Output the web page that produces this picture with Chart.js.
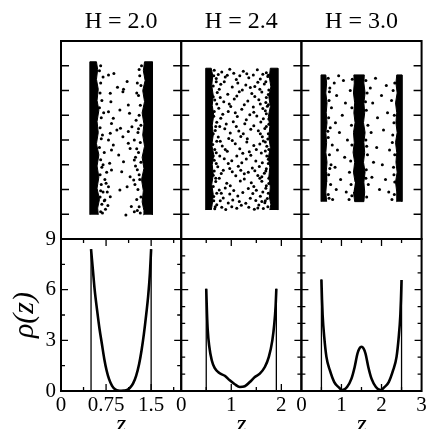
<!DOCTYPE html>
<html>
<head>
<meta charset="utf-8">
<script src="https://cdn.jsdelivr.net/npm/chart.js@4"></script>
<style>
  html, body { margin: 0; padding: 0; background: #fff; }
  #wrap { position: relative; width: 430px; height: 429px; }
</style>
</head>
<body>
<div id="wrap"><canvas id="chart"></canvas></div>
<script>
"use strict";

// one column per slab width H
const titles = ["H = 2.0", "H = 2.4", "H = 3.0"];
const zMax = [2.0, 2.4, 3.0];

// tick values and labels
const zMajor = [[0, 0.75, 1.5], [0, 1, 2], [0, 1, 2, 3]];
const zLabels = [["0", "0.75", "1.5"], ["0", "1", "2"], ["0", "1", "2", "3"]];
const zMinor = [[0.375, 1.125, 1.875], [0.5, 1.5], [0.5, 1.5, 2.5]];
const rhoMajor = [0, 3, 6, 9];
const rhoLabels = ["0", "3", "6", "9"];
const rhoMinor = [[1.5, 4.5, 7.5], [1, 2, 4, 5, 7, 8], [1, 2, 4, 5, 7, 8]];
const topTicks = [1, 2, 3, 4, 5, 6, 7];

// density profiles rho(z)
const z1 = [0.5, 0.53, 0.56, 0.6, 0.64, 0.68, 0.72, 0.76, 0.8, 0.85, 0.9, 0.95, 1.0, 1.05, 1.1, 1.15, 1.2, 1.25, 1.3, 1.34, 1.38, 1.42, 1.45, 1.48, 1.5];
const rho1 = [8.4, 7.2, 6.0, 4.8, 3.7, 2.8, 1.9, 1.2, 0.7, 0.3, 0.1, 0.03, 0.01, 0.02, 0.06, 0.2, 0.45, 0.9, 1.6, 2.4, 3.4, 4.6, 5.6, 7.0, 8.4];
const z2 = [0.5, 0.515, 0.53, 0.56, 0.61, 0.67, 0.77, 0.87, 0.97, 1.07, 1.17, 1.27, 1.37, 1.47, 1.57, 1.67, 1.75, 1.82, 1.86, 1.885, 1.9];
const rho2 = [6.05, 4.6, 3.6, 2.65, 1.82, 1.35, 1.05, 0.9, 0.63, 0.4, 0.24, 0.28, 0.53, 0.83, 1.03, 1.42, 2.02, 3.0, 4.0, 5.0, 6.05];
const z3 = [0.5, 0.515, 0.53, 0.57, 0.625, 0.71, 0.82, 0.94, 1.02, 1.14, 1.25, 1.33, 1.4, 1.45, 1.5, 1.55, 1.6, 1.67, 1.75, 1.86, 1.98, 2.06, 2.18, 2.29, 2.375, 2.43, 2.47, 2.485, 2.5];
const rho3 = [6.6, 5.4, 4.5, 3.2, 2.02, 1.23, 0.53, 0.2, 0.05, 0.24, 0.73, 1.42, 2.22, 2.52, 2.62, 2.52, 2.22, 1.42, 0.73, 0.24, 0.05, 0.2, 0.53, 1.23, 2.02, 3.2, 4.5, 5.4, 6.57];
const zs = [z1, z2, z3];
const rhos = [rho1, rho2, rho3];
const walls = [[0.5, 1.5], [0.5, 1.9], [0.5, 2.5]];

// particle snapshots: dense wall layers (outlines) and single particles
const bands1 = [
  [[0.48,0.98],[0.48,7.16],[0.59,7.16],[0.61,6.85],[0.59,6.45],[0.62,6.05],[0.60,5.6],[0.63,5.2],[0.60,4.75],[0.62,4.3],[0.59,3.85],[0.63,3.4],[0.60,2.95],[0.63,2.5],[0.60,2.05],[0.64,1.6],[0.61,1.25],[0.62,0.98]],
  [[1.37,0.98],[1.38,1.15],[1.35,1.5],[1.37,1.95],[1.34,2.4],[1.38,2.85],[1.35,3.3],[1.39,3.75],[1.36,4.2],[1.38,4.65],[1.35,5.1],[1.39,5.55],[1.36,6.0],[1.40,6.4],[1.37,6.8],[1.39,7.16],[1.52,7.16],[1.52,0.98]]
];
const bands2 = [
  [[0.49,1.17],[0.49,6.9],[0.60,6.9],[0.63,6.6],[0.61,6.2],[0.64,5.8],[0.62,5.4],[0.65,5.0],[0.62,4.6],[0.64,4.2],[0.61,3.8],[0.65,3.4],[0.62,3.0],[0.64,2.6],[0.61,2.2],[0.64,1.8],[0.62,1.4],[0.60,1.17]],
  [[1.77,1.17],[1.79,1.4],[1.76,1.7],[1.78,2.1],[1.75,2.5],[1.77,2.9],[1.74,3.3],[1.78,3.7],[1.75,4.1],[1.77,4.55],[1.74,4.95],[1.78,5.35],[1.75,5.75],[1.79,6.15],[1.76,6.55],[1.78,6.9],[1.93,6.9],[1.93,1.17]]
];
const bands3 = [
  [[0.49,1.51],[0.49,6.63],[0.61,6.63],[0.63,6.3],[0.61,5.9],[0.64,5.5],[0.62,5.1],[0.64,4.7],[0.61,4.3],[0.63,3.9],[0.61,3.5],[0.64,3.1],[0.62,2.7],[0.63,2.3],[0.61,1.9],[0.63,1.51]],
  [[1.30,1.9],[1.33,1.51],[1.56,1.51],[1.58,1.9],[1.56,2.3],[1.59,2.7],[1.55,3.1],[1.58,3.5],[1.56,3.9],[1.59,4.3],[1.55,4.7],[1.58,5.1],[1.56,5.5],[1.59,5.9],[1.56,6.3],[1.57,6.63],[1.31,6.63],[1.32,6.3],[1.30,5.9],[1.33,5.5],[1.31,5.1],[1.34,4.7],[1.30,4.3],[1.32,3.9],[1.29,3.5],[1.33,3.1],[1.30,2.7],[1.34,2.3]],
  [[2.37,1.51],[2.38,1.9],[2.35,2.3],[2.39,2.7],[2.36,3.1],[2.38,3.5],[2.35,3.9],[2.39,4.3],[2.36,4.7],[2.38,5.1],[2.35,5.5],[2.39,5.9],[2.36,6.3],[2.38,6.63],[2.51,6.63],[2.51,1.51]]
];
const dots1 = [
  [0.79,6.63],[0.88,6.69],[1.10,6.36],[0.94,6.13],[1.04,6.05],[0.82,5.89],[1.03,5.95],[0.83,5.55],[0.98,5.21],[1.12,5.41],
  [0.79,5.14],[0.87,4.88],[1.14,5.08],[0.84,4.67],[0.99,4.47],[0.93,4.40],[1.18,4.54],[0.82,4.27],[1.03,4.13],[1.12,4.34],
  [0.79,4.00],[0.87,3.80],[1.12,3.87],[0.84,3.60],[0.96,3.39],[1.15,3.66],[0.81,3.06],[1.04,3.12],[1.22,3.19],[0.84,2.79],
  [1.01,2.72],[1.15,2.52],[0.79,2.11],[1.10,2.11],[1.21,2.38],[0.98,1.98],[1.08,0.97],[1.22,1.10],[1.17,1.31],[0.82,1.71],[0.73,1.58],
  [0.64,6.8],[0.66,6.3],[0.65,5.9],[0.68,5.6],[0.64,5.3],[0.67,4.9],[0.65,4.5],[0.69,4.2],[0.64,3.7],[0.66,3.2],[0.68,2.9],
  [0.65,2.6],[0.67,2.2],[0.70,1.9],[0.65,1.7],[0.68,1.4],[0.66,1.1],[0.72,3.5],[0.71,5.1],[0.73,2.4],[0.74,1.2],[0.77,1.9],[0.76,2.7],
  [0.66,7.0],[0.70,6.55],[0.67,4.05],[0.70,3.0],[0.66,1.95],[0.72,1.55],[0.69,1.05],[0.75,2.25],[0.78,1.35],
  [1.34,7.0],[1.31,6.6],[1.33,6.2],[1.29,5.8],[1.32,5.4],[1.30,5.0],[1.33,4.6],[1.28,4.3],[1.32,3.9],[1.29,3.5],[1.33,3.1],
  [1.27,2.8],[1.31,2.4],[1.28,2.0],[1.33,1.7],[1.30,1.3],[1.32,1.05],[1.25,4.8],[1.24,3.3],[1.26,1.6],[1.23,2.2],[1.26,5.9],[1.22,4.0],
  [1.30,6.85],[1.27,6.3],[1.29,4.45],[1.26,3.65],[1.30,2.6],[1.27,1.15],[1.24,2.95]
];
const dots2 = [
  [0.66,6.82],[0.81,6.75],[0.97,6.86],[1.24,6.78],[1.52,6.84],[1.70,6.72],[0.70,6.48],[0.88,6.55],[1.10,6.44],[1.35,6.52],[1.58,6.46],[1.73,6.57],
  [0.64,6.18],[0.79,6.25],[1.02,6.14],[1.29,6.22],[1.47,6.16],[1.66,6.26],[0.72,5.92],[0.93,5.85],[1.16,5.95],[1.41,5.88],[1.61,5.94],[1.74,5.84],
  [0.67,5.62],[0.85,5.55],[1.06,5.66],[1.33,5.58],[1.55,5.63],[1.69,5.52],[0.75,5.28],[0.99,5.35],[1.21,5.24],[1.44,5.33],[1.63,5.27],[1.72,5.36],
  [0.65,4.96],[0.83,5.04],[1.12,4.95],[1.37,5.02],[1.51,4.97],[1.70,5.06],[0.71,4.72],[0.90,4.65],[1.04,4.74],[1.27,4.66],[1.59,4.73],[1.75,4.64],
  [0.68,4.38],[0.87,4.45],[1.15,4.36],[1.39,4.43],[1.54,4.37],[1.67,4.46],[0.74,4.12],[0.95,4.06],[1.19,4.14],[1.32,4.05],[1.62,4.13],[1.73,4.04],
  [0.63,3.82],[0.82,3.76],[1.08,3.85],[1.45,3.78],[1.57,3.84],[1.71,3.75],[0.70,3.48],[0.92,3.55],[1.23,3.46],[1.36,3.53],[1.60,3.47],[1.68,3.56],
  [0.66,3.18],[0.86,3.24],[1.01,3.16],[1.30,3.23],[1.49,3.15],[1.74,3.22],[0.73,2.92],[0.97,2.85],[1.14,2.94],[1.42,2.87],[1.56,2.93],[1.70,2.84],
  [0.64,2.58],[0.80,2.65],[1.09,2.56],[1.26,2.64],[1.53,2.57],[1.66,2.66],[0.69,2.32],[0.91,2.25],[1.18,2.34],[1.40,2.27],[1.61,2.33],[1.75,2.24],
  [0.76,1.98],[0.88,2.06],[1.05,1.96],[1.34,2.04],[1.50,1.97],[1.69,2.05],[0.65,1.72],[0.84,1.66],[1.13,1.74],[1.38,1.65],[1.58,1.73],[1.72,1.64],
  [0.71,1.38],[0.94,1.45],[1.20,1.36],[1.29,1.44],[1.55,1.37],[1.67,1.46],[0.67,1.22],[0.89,1.19],[1.11,1.24],[1.46,1.20],[1.64,1.23],
  [0.74,6.65],[0.92,6.62],[1.05,6.7],[1.17,6.6],[1.31,6.68],[1.44,6.63],[1.63,6.66],
  [0.76,6.05],[0.86,6.35],[1.13,6.3],[1.22,6.02],[1.38,6.12],[1.53,6.33],[1.57,6.05],
  [0.78,5.72],[0.96,5.45],[1.11,5.78],[1.26,5.42],[1.47,5.76],[1.58,5.45],
  [0.79,4.88],[0.94,5.15],[1.08,5.1],[1.30,4.82],[1.45,5.12],[1.64,4.86],
  [0.77,4.55],[0.98,4.28],[1.10,4.55],[1.24,4.25],[1.45,4.58],[1.58,4.25],
  [0.78,3.95],[0.88,3.62],[1.02,3.98],[1.17,3.65],[1.31,3.92],[1.50,3.62],[1.64,3.96],
  [0.77,3.35],[0.94,3.05],[1.11,3.35],[1.21,3.08],[1.39,3.38],[1.62,3.08],
  [0.84,2.78],[1.02,2.72],[1.19,2.78],[1.34,2.7],[1.47,2.76],[1.61,2.52],
  [0.76,2.45],[0.98,2.15],[1.26,2.42],[1.45,2.12],[1.57,2.45],
  [0.80,1.85],[0.97,1.82],[1.23,1.88],[1.43,1.84],[1.63,1.9],
  [0.78,1.55],[1.03,1.58],[1.16,1.52],[1.49,1.56],[1.61,1.52],
  [0.81,1.28],[1.01,1.3],[1.35,1.28],[1.53,1.25],
  [0.65,6.6],[0.70,6.35],[0.64,5.75],[0.71,5.45],[0.66,5.15],[0.69,4.55],[0.64,4.25],[0.71,3.95],[0.67,3.62],[0.64,3.35],[0.70,3.05],
  [0.66,2.75],[0.69,2.45],[0.64,2.12],[0.71,1.85],[0.65,1.55],[0.68,1.3],
  [1.74,6.62],[1.69,6.35],[1.75,6.02],[1.70,5.72],[1.74,5.42],[1.68,5.18],[1.75,4.85],[1.70,4.55],[1.74,4.25],[1.68,3.92],[1.75,3.62],
  [1.71,3.35],[1.74,3.05],[1.69,2.75],[1.75,2.45],[1.70,2.15],[1.74,1.85],[1.68,1.55],[1.73,1.3]
];
const dots3 = [
  [0.67,6.5],[0.71,6.1],[0.69,5.6],[0.75,5.3],[0.68,4.9],[0.72,4.5],[0.67,4.1],[0.77,3.8],[0.70,3.4],[0.74,3.0],[0.68,2.6],[0.73,2.2],
  [0.67,1.8],[0.78,1.6],[0.82,6.3],[0.88,5.8],[0.85,4.7],[0.95,4.3],[0.90,3.6],[0.84,2.9],[0.98,2.4],[0.87,2.0],[1.05,6.4],[1.10,5.5],
  [1.02,5.0],[1.15,4.0],[1.08,3.3],[1.20,2.7],[1.12,1.9],[1.22,6.0],[1.25,4.6],[1.26,3.8],[1.24,2.2],[1.26,5.3],[1.19,1.6],[0.93,6.6],
  [0.70,5.95],[0.66,4.35],[0.71,2.85],[0.69,1.65],[1.27,6.45],[1.23,3.15],[1.26,1.75],
  [1.61,6.4],[1.64,5.9],[1.62,5.2],[1.66,4.6],[1.61,4.0],[1.65,3.4],[1.62,2.8],[1.67,2.2],[1.63,1.7],[1.72,6.1],[1.78,5.5],[1.74,4.3],
  [1.80,3.1],[1.76,2.5],[1.85,6.5],[1.90,4.9],[1.88,3.7],[1.95,2.0],[2.00,5.8],[2.05,4.4],[2.02,3.0],[2.12,6.2],[2.15,5.1],[2.10,2.4],
  [2.20,3.6],[2.25,5.6],[2.28,4.2],[2.30,2.9],[2.33,6.3],[2.32,5.0],[2.32,1.8],[2.33,3.4],[2.26,1.6],[2.18,1.9],[2.31,4.7],[2.33,2.3],
  [1.60,5.55],[1.63,3.75],[1.61,2.45],[2.29,6.0],[2.27,3.9],[2.31,2.6]
];
const bands = [bands1, bands2, bands3];
const dots = [dots1, dots2, dots3];

const serif = "'Liberation Serif', 'DejaVu Serif', serif";
const pts = arr => arr.map(p => ({x: p[0], y: p[1]}));

// build datasets
const datasets = [];
for (let c = 0; c < 3; c++) {
  const xID = "x" + c;
  bands[c].forEach(b => datasets.push({
    type: "line", xAxisID: xID, yAxisID: "yTop", data: pts(b),
    fill: "shape", backgroundColor: "#000", borderColor: "#000",
    borderWidth: 1, pointRadius: 0, tension: 0
  }));
  datasets.push({
    type: "scatter", xAxisID: xID, yAxisID: "yTop", data: pts(dots[c]),
    pointRadius: 1.5, pointBackgroundColor: "#000", pointBorderWidth: 0
  });
  const zz = zs[c], rr = rhos[c];
  datasets.push({
    type: "line", xAxisID: xID, yAxisID: "yBot",
    data: zz.map((v, i) => ({x: v, y: rr[i]})),
    borderColor: "#000", borderWidth: 2.6, pointRadius: 0,
    cubicInterpolationMode: "monotone", fill: false
  });
  const w = walls[c];
  datasets.push({
    type: "line", xAxisID: xID, yAxisID: "yBot",
    data: [{x: w[0], y: 0}, {x: w[0], y: rr[0]}, {x: w[0], y: null},
           {x: w[1], y: rr[rr.length - 1]}, {x: w[1], y: 0}],
    borderColor: "#000", borderWidth: 1.3, pointRadius: 0, spanGaps: false, fill: false
  });
}

// scales: three stacked columns, two stacked rows
const scales = {};
for (let c = 0; c < 3; c++) {
  scales["h" + c] = {
    type: "linear", axis: "x", position: "top", stack: "heads", weight: 2 - c,
    min: 0, max: 1,
    grid: {display: false, drawTicks: false}, border: {display: false},
    ticks: {display: false},
    title: {display: true, text: titles[c], color: "#000",
            font: {family: serif, size: 24, lineHeight: 1}, padding: {top: 10, bottom: 0}},
    afterFit: s => { s.height = 41; }
  };
  scales["x" + c] = {
    type: "linear", axis: "x", position: "bottom", stack: "cols", weight: c,
    min: 0, max: zMax[c],
    grid: {display: false, drawTicks: false}, border: {display: false},
    afterBuildTicks: s => { s.ticks = zMajor[c].map(v => ({value: v})); },
    ticks: {autoSkip: false, maxRotation: 0, padding: 2, color: "#000",
            font: {family: serif, size: 21, lineHeight: 1.2},
            callback: (v, i) => zLabels[c][i]},
    title: {display: true, text: "z", color: "#000",
            font: {family: serif, size: 26, style: "italic", lineHeight: 1}, padding: {top: 0, bottom: -9}},
    afterFit: s => { s.height = 38; }
  };
}
scales.yTop = {
  type: "linear", axis: "y", position: "left", stack: "rows", stackWeight: 198, weight: 1,
  min: 0, max: 8,
  grid: {display: false, drawTicks: false}, border: {display: false},
  ticks: {display: false},
  afterFit: s => { s.width = 61; }
};
scales.yBot = {
  type: "linear", axis: "y", position: "left", stack: "rows", stackWeight: 152, weight: 0,
  min: 0, max: 9,
  grid: {display: false, drawTicks: false}, border: {display: false},
  afterBuildTicks: s => { s.ticks = rhoMajor.map(v => ({value: v})); },
  ticks: {autoSkip: false, padding: 5, color: "#000",
          font: {family: serif, size: 21, lineHeight: 1.2},
          callback: (v, i) => rhoLabels[i]},
  title: {display: true, text: "ρ(z)", color: "#000",
          font: {family: serif, size: 30, style: "italic", lineHeight: 1}, padding: {top: 10, bottom: 0}},
  afterFit: s => { s.width = 61; }
};

// panel frames with inward ticks on every side
function drawTicks(ctx, xs, ys, xVals, yVals, len) {
  ctx.beginPath();
  xVals.forEach(v => {
    if (v <= xs.min || v >= xs.max) return;
    const p = xs.getPixelForValue(v);
    ctx.moveTo(p, ys.bottom); ctx.lineTo(p, ys.bottom - len);
    ctx.moveTo(p, ys.top); ctx.lineTo(p, ys.top + len);
  });
  yVals.forEach(v => {
    if (v <= ys.min || v >= ys.max) return;
    const p = ys.getPixelForValue(v);
    ctx.moveTo(xs.left, p); ctx.lineTo(xs.left + len, p);
    ctx.moveTo(xs.right, p); ctx.lineTo(xs.right - len, p);
  });
  ctx.stroke();
}
const panelFrames = {
  id: "panelFrames",
  afterDatasetsDraw(chart) {
    const ctx = chart.ctx;
    const yt = chart.scales.yTop, yb = chart.scales.yBot;
    ctx.save();
    ctx.strokeStyle = "#000";
    for (let c = 0; c < 3; c++) {
      const xs = chart.scales["x" + c];
      ctx.lineWidth = 1.3;
      drawTicks(ctx, xs, yt, [], topTicks, 8);
      drawTicks(ctx, xs, yb, zMajor[c], rhoMajor, 7);
      drawTicks(ctx, xs, yb, zMinor[c], rhoMinor[c], 4);
      ctx.lineWidth = 2;
      ctx.strokeRect(xs.left, yt.top, xs.right - xs.left, yt.bottom - yt.top);
      ctx.strokeRect(xs.left, yb.top, xs.right - xs.left, yb.bottom - yb.top);
    }
    ctx.restore();
  }
};

new Chart(document.getElementById("chart"), {
  type: "scatter",
  data: {datasets: datasets},
  options: {
    responsive: true,
    maintainAspectRatio: false,
    animation: false,
    events: [],
    layout: {padding: {left: 0, right: 7, top: 0, bottom: 0}},
    plugins: {legend: {display: false}, tooltip: {enabled: false}},
    scales: scales
  },
  plugins: [panelFrames]
});
</script>
</body>
</html>
